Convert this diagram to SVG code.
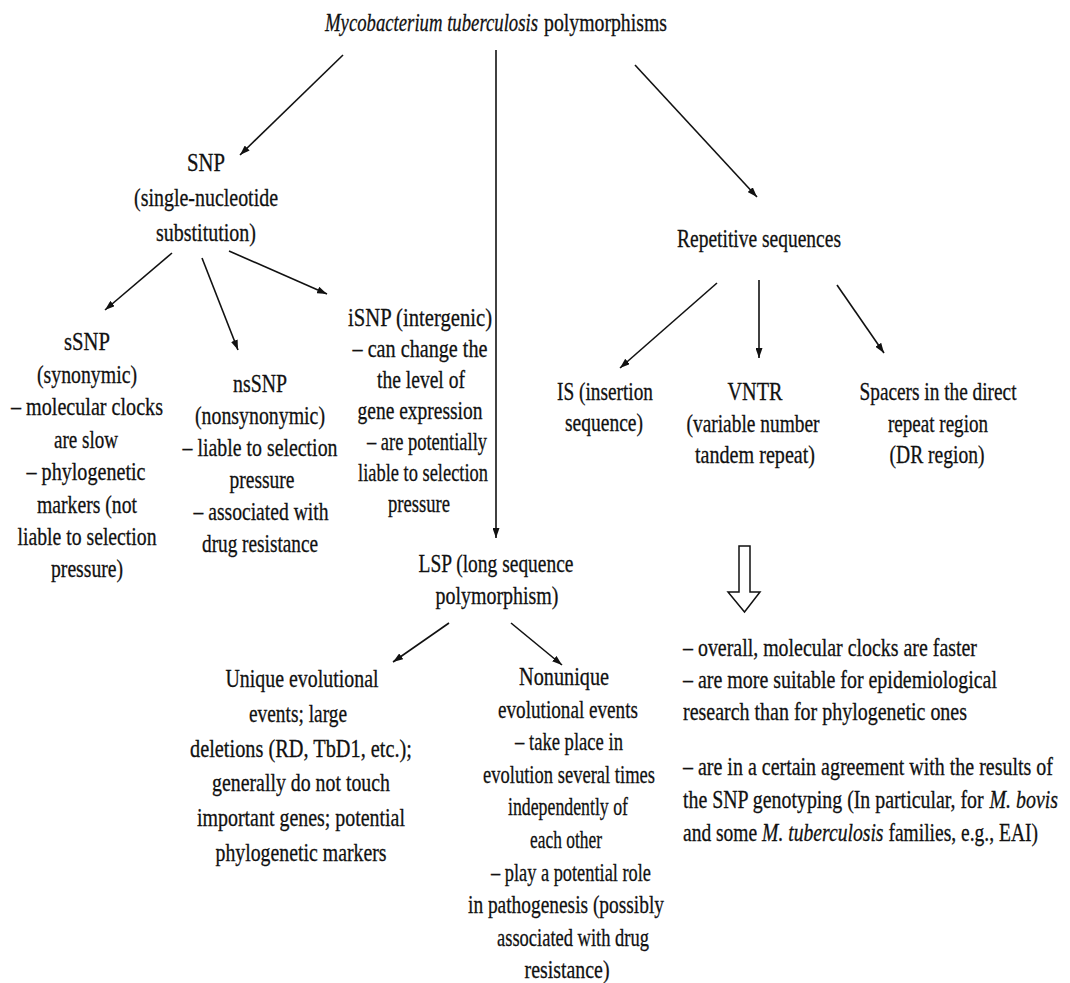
<svg xmlns="http://www.w3.org/2000/svg" width="1070" height="983" viewBox="0 0 1070 983">
  <style>
    text { font-family: "Liberation Serif", "Times New Roman", "DejaVu Serif", serif; font-size: 26px; fill: #111; stroke: #111; stroke-width: 0.3px; }
    .c { text-anchor: middle; }
    .i { font-style: italic; }
    .edge { stroke: #111; stroke-width: 1.6; fill: none; marker-end: url(#head); }
  </style>
  <defs>
    <marker id="head" markerUnits="userSpaceOnUse" markerWidth="11" markerHeight="7" refX="10" refY="3.5" orient="auto">
      <path d="M0,0 L10,3.5 L0,7 z" fill="#111"/>
    </marker>
  </defs>

  <rect width="1070" height="983" fill="#fff"/>

  <!-- connectors -->
  <g id="connectors">
    <line class="edge" x1="343" y1="55" x2="240" y2="155"/>
    <line class="edge" x1="496" y1="50" x2="496" y2="538"/>
    <line class="edge" x1="635" y1="65" x2="757" y2="197"/>
    <line class="edge" x1="172" y1="253" x2="105" y2="310"/>
    <line class="edge" x1="202" y1="258" x2="238" y2="350"/>
    <line class="edge" x1="229" y1="251" x2="327" y2="294"/>
    <line class="edge" x1="717" y1="283" x2="620" y2="368"/>
    <line class="edge" x1="759" y1="280" x2="759" y2="358"/>
    <line class="edge" x1="837" y1="285" x2="884" y2="353"/>
    <line class="edge" x1="449" y1="623" x2="393" y2="662"/>
    <line class="edge" x1="511" y1="623" x2="562" y2="665"/>
    <!-- hollow block arrow -->
    <path d="M739,546 L750,546 L750,592 L760,592 L744.5,612 L728,592 L739,592 Z" fill="#fff" stroke="#111" stroke-width="1.5" stroke-linejoin="miter"/>
  </g>

  <!-- every line is set in a condensed serif: scaled across, then fitted with textLength -->
  <g id="root">
    <text class="i" transform="translate(325 0) scale(.715 1)" y="31" textLength="297.9" lengthAdjust="spacingAndGlyphs">Mycobacterium tuberculosis</text>
    <text transform="translate(544 0) scale(.76 1)" y="31" textLength="161.8" lengthAdjust="spacingAndGlyphs">polymorphisms</text>
  </g>

  <g id="snp">
    <text class="c" transform="translate(206 0) scale(.8 1)" y="171" textLength="47.5" lengthAdjust="spacingAndGlyphs">SNP</text>
    <text class="c" transform="translate(206 0) scale(.8 1)" y="206" textLength="180" lengthAdjust="spacingAndGlyphs">(single-nucleotide</text>
    <text class="c" transform="translate(206 0) scale(.8 1)" y="241" textLength="125" lengthAdjust="spacingAndGlyphs">substitution)</text>
  </g>

  <g id="ssnp">
    <text class="c" transform="translate(87 0) scale(.8 1)" y="350" textLength="57.5" lengthAdjust="spacingAndGlyphs">sSNP</text>
    <text class="c" transform="translate(87 0) scale(.8 1)" y="383" textLength="125" lengthAdjust="spacingAndGlyphs">(synonymic)</text>
    <text class="c" transform="translate(87 0) scale(.8 1)" y="415" textLength="190" lengthAdjust="spacingAndGlyphs">– molecular clocks</text>
    <text class="c" transform="translate(86 0) scale(.8 1)" y="448" textLength="80" lengthAdjust="spacingAndGlyphs">are slow</text>
    <text class="c" transform="translate(86 0) scale(.8 1)" y="480" textLength="148.75" lengthAdjust="spacingAndGlyphs">– phylogenetic</text>
    <text class="c" transform="translate(87 0) scale(.8 1)" y="513" textLength="125" lengthAdjust="spacingAndGlyphs">markers (not</text>
    <text class="c" transform="translate(87 0) scale(.8 1)" y="545" textLength="173.75" lengthAdjust="spacingAndGlyphs">liable to selection</text>
    <text class="c" transform="translate(87 0) scale(.8 1)" y="577" textLength="90" lengthAdjust="spacingAndGlyphs">pressure)</text>
  </g>

  <g id="nssnp">
    <text class="c" transform="translate(260 0) scale(.8 1)" y="392" textLength="67.5" lengthAdjust="spacingAndGlyphs">nsSNP</text>
    <text class="c" transform="translate(260 0) scale(.8 1)" y="424" textLength="162.5" lengthAdjust="spacingAndGlyphs">(nonsynonymic)</text>
    <text class="c" transform="translate(260 0) scale(.8 1)" y="456" textLength="193.75" lengthAdjust="spacingAndGlyphs">– liable to selection</text>
    <text class="c" transform="translate(262 0) scale(.8 1)" y="488" textLength="81.25" lengthAdjust="spacingAndGlyphs">pressure</text>
    <text class="c" transform="translate(261 0) scale(.8 1)" y="520" textLength="168.75" lengthAdjust="spacingAndGlyphs">– associated with</text>
    <text class="c" transform="translate(260 0) scale(.8 1)" y="552" textLength="145" lengthAdjust="spacingAndGlyphs">drug resistance</text>
  </g>

  <g id="isnp">
    <text class="c" transform="translate(420 0) scale(.8 1)" y="326" textLength="180" lengthAdjust="spacingAndGlyphs">iSNP (intergenic)</text>
    <text class="c" transform="translate(420 0) scale(.8 1)" y="357" textLength="168.75" lengthAdjust="spacingAndGlyphs">– can change the</text>
    <text class="c" transform="translate(421 0) scale(.8 1)" y="388" textLength="110" lengthAdjust="spacingAndGlyphs">the level of</text>
    <text class="c" transform="translate(420 0) scale(.8 1)" y="419" textLength="156.25" lengthAdjust="spacingAndGlyphs">gene expression</text>
    <text class="c" transform="translate(427 0) scale(.8 1)" y="450" textLength="150" lengthAdjust="spacingAndGlyphs">–  are potentially</text>
    <text class="c" transform="translate(423 0) scale(.8 1)" y="481" textLength="162.5" lengthAdjust="spacingAndGlyphs">liable to selection</text>
    <text class="c" transform="translate(419 0) scale(.8 1)" y="512" textLength="77.5" lengthAdjust="spacingAndGlyphs">pressure</text>
  </g>

  <g id="repetitive">
    <text class="c" transform="translate(759 0) scale(.8 1)" y="247" textLength="205" lengthAdjust="spacingAndGlyphs">Repetitive sequences</text>
  </g>

  <g id="is">
    <text class="c" transform="translate(605 0) scale(.8 1)" y="400" textLength="120" lengthAdjust="spacingAndGlyphs">IS (insertion</text>
    <text class="c" transform="translate(604 0) scale(.8 1)" y="431" textLength="97.5" lengthAdjust="spacingAndGlyphs">sequence)</text>
  </g>

  <g id="vntr">
    <text class="c" transform="translate(755 0) scale(.8 1)" y="400" textLength="68.75" lengthAdjust="spacingAndGlyphs">VNTR</text>
    <text class="c" transform="translate(753 0) scale(.8 1)" y="432" textLength="166.25" lengthAdjust="spacingAndGlyphs">(variable number</text>
    <text class="c" transform="translate(755 0) scale(.8 1)" y="463" textLength="150" lengthAdjust="spacingAndGlyphs">tandem repeat)</text>
  </g>

  <g id="spacers">
    <text class="c" transform="translate(938 0) scale(.8 1)" y="400" textLength="196.25" lengthAdjust="spacingAndGlyphs">Spacers in the direct</text>
    <text class="c" transform="translate(938 0) scale(.8 1)" y="432" textLength="125" lengthAdjust="spacingAndGlyphs">repeat region</text>
    <text class="c" transform="translate(937 0) scale(.8 1)" y="463" textLength="118.75" lengthAdjust="spacingAndGlyphs">(DR region)</text>
  </g>

  <g id="lsp">
    <text class="c" transform="translate(496 0) scale(.8 1)" y="572" textLength="193.75" lengthAdjust="spacingAndGlyphs">LSP (long sequence</text>
    <text class="c" transform="translate(497 0) scale(.8 1)" y="604" textLength="153.75" lengthAdjust="spacingAndGlyphs">polymorphism)</text>
  </g>

  <g id="unique">
    <text class="c" transform="translate(302 0) scale(.8 1)" y="687" textLength="191.25" lengthAdjust="spacingAndGlyphs">Unique evolutional</text>
    <text class="c" transform="translate(298 0) scale(.8 1)" y="722" textLength="122.5" lengthAdjust="spacingAndGlyphs">events; large</text>
    <text class="c" transform="translate(301 0) scale(.8 1)" y="757" textLength="277.5" lengthAdjust="spacingAndGlyphs">deletions (RD, TbD1, etc.);</text>
    <text class="c" transform="translate(301 0) scale(.8 1)" y="791" textLength="222.5" lengthAdjust="spacingAndGlyphs">generally do not touch</text>
    <text class="c" transform="translate(301 0) scale(.8 1)" y="826" textLength="260" lengthAdjust="spacingAndGlyphs">important genes; potential</text>
    <text class="c" transform="translate(301 0) scale(.8 1)" y="861" textLength="213.75" lengthAdjust="spacingAndGlyphs">phylogenetic markers</text>
  </g>

  <g id="nonunique">
    <text class="c" transform="translate(564 0) scale(.8 1)" y="685" textLength="112.5" lengthAdjust="spacingAndGlyphs">Nonunique</text>
    <text class="c" transform="translate(568 0) scale(.8 1)" y="718" textLength="175" lengthAdjust="spacingAndGlyphs">evolutional events</text>
    <text class="c" transform="translate(569 0) scale(.8 1)" y="750" textLength="135" lengthAdjust="spacingAndGlyphs">– take place in</text>
    <text class="c" transform="translate(569 0) scale(.8 1)" y="783" textLength="215" lengthAdjust="spacingAndGlyphs">evolution several times</text>
    <text class="c" transform="translate(568 0) scale(.8 1)" y="815" textLength="150" lengthAdjust="spacingAndGlyphs">independently of</text>
    <text class="c" transform="translate(566 0) scale(.8 1)" y="848" textLength="90" lengthAdjust="spacingAndGlyphs">each other</text>
    <text class="c" transform="translate(571 0) scale(.8 1)" y="881" textLength="200" lengthAdjust="spacingAndGlyphs">– play a potential role</text>
    <text class="c" transform="translate(566 0) scale(.8 1)" y="913" textLength="245" lengthAdjust="spacingAndGlyphs">in pathogenesis (possibly</text>
    <text class="c" transform="translate(573 0) scale(.8 1)" y="946" textLength="190" lengthAdjust="spacingAndGlyphs">associated with drug</text>
    <text class="c" transform="translate(567 0) scale(.8 1)" y="978" textLength="106.25" lengthAdjust="spacingAndGlyphs">resistance)</text>
  </g>

  <g id="properties">
    <text transform="translate(683 0) scale(.8 1)" y="656" textLength="367.5" lengthAdjust="spacingAndGlyphs">– overall, molecular clocks are faster</text>
    <text transform="translate(683 0) scale(.8 1)" y="688" textLength="392.5" lengthAdjust="spacingAndGlyphs">– are more suitable for epidemiological</text>
    <text transform="translate(683 0) scale(.8 1)" y="720" textLength="355" lengthAdjust="spacingAndGlyphs">research than for phylogenetic ones</text>
    <text transform="translate(683 0) scale(.8 1)" y="775" textLength="462.5" lengthAdjust="spacingAndGlyphs">– are in a certain agreement with the results of</text>
    <text transform="translate(683 0) scale(.77 1)" y="808" textLength="390.4" lengthAdjust="spacingAndGlyphs">the SNP genotyping (In particular, for</text>
    <text class="i" transform="translate(989.5 0) scale(.76 1)" y="808" textLength="90.1" lengthAdjust="spacingAndGlyphs">M. bovis</text>
    <text transform="translate(683 0) scale(.8 1)" y="841" textLength="92.75" lengthAdjust="spacingAndGlyphs">and some</text>
    <text class="i" transform="translate(762.1 0) scale(.8 1)" y="841" textLength="151.75" lengthAdjust="spacingAndGlyphs">M. tuberculosis</text>
    <text transform="translate(888.4 0) scale(.8 1)" y="841" textLength="187" lengthAdjust="spacingAndGlyphs">families, e.g., EAI)</text>
  </g>
</svg>
